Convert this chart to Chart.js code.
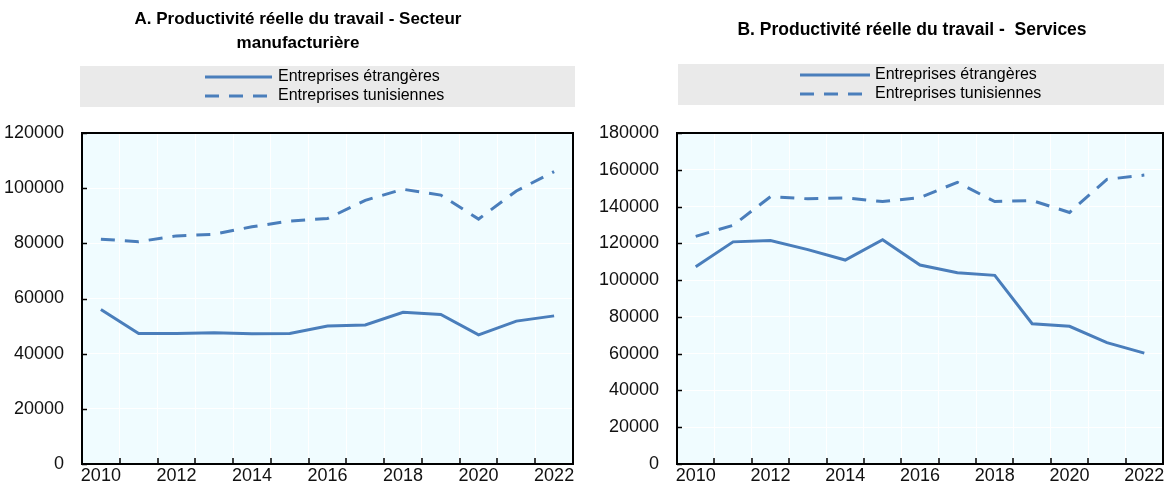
<!DOCTYPE html>
<html>
<head>
<meta charset="utf-8">
<script src="https://cdn.jsdelivr.net/npm/chart.js@4"></script>
<style>
  html, body { margin: 0; padding: 0; background: #fff; overflow: hidden; width: 1164px; height: 488px; }
  canvas { position: absolute; top: 0; }
  #chartA { left: 0; }
  #chartB { left: 590px; }
</style>
</head>
<body>
<canvas id="chartA" width="590" height="488"></canvas>
<canvas id="chartB" width="600" height="488"></canvas>
<script>
const years = ['2010', '2011', '2012', '2013', '2014', '2015', '2016', '2017', '2018', '2019', '2020', '2021', '2022']
const seriesNames = ['Entreprises étrangères', 'Entreprises tunisiennes']

// A. Secteur manufacturier
const manuEtrangeres = [56000, 47300, 47300, 47600, 47200, 47300, 50000, 50400, 55000, 54200, 46800, 51800, 53700]
const manuTunisiennes = [81500, 80600, 82700, 83300, 86000, 88100, 89000, 95600, 99600, 97500, 88800, 99000, 106000]

// B. Services
const servEtrangeres = [107300, 120800, 121500, 116600, 110900, 122000, 108200, 104000, 102600, 76300, 74900, 66000, 60300]
const servTunisiennes = [123800, 129800, 145400, 144200, 144700, 142700, 144900, 153200, 142700, 143300, 136800, 154800, 157100]

const FONT = "'Liberation Sans Narrow', 'Arial Narrow', Arial, sans-serif"
const BLUE = '#4A7EBB'

// plot background, frame, inward ticks, title and grey legend box
const frame = {
  id: 'frame',
  beforeDraw(chart) {
    const { ctx, chartArea: a } = chart
    ctx.save()
    ctx.fillStyle = '#F0FCFF'
    ctx.fillRect(a.left, a.top, a.right - a.left, a.bottom - a.top)
    ctx.restore()
  },
  afterDraw(chart, args, o) {
    const { ctx, chartArea: a, scales } = chart
    ctx.save()
    ctx.strokeStyle = '#000'
    ctx.lineWidth = 1.5
    ctx.beginPath()
    scales.y.ticks.forEach((t, i) => {
      const y = Math.round(scales.y.getPixelForTick(i)) + 0.5
      ctx.moveTo(a.left, y)
      ctx.lineTo(a.left + 5, y)
    })
    for (let i = 1; i < years.length; i++) {
      const x = Math.round((scales.x.getPixelForTick(i - 1) + scales.x.getPixelForTick(i)) / 2)
      ctx.moveTo(x, a.bottom)
      ctx.lineTo(x, a.bottom - 6)
    }
    ctx.stroke()

    ctx.lineWidth = 2
    ctx.strokeRect(a.left, a.top, a.right - a.left, a.bottom - a.top)

    ctx.fillStyle = '#000'
    ctx.font = 'bold ' + o.titleSize + 'px ' + FONT
    ctx.textAlign = 'center'
    ctx.textBaseline = 'middle'
    o.title.forEach((t, i) => ctx.fillText(t, o.titleX, o.titleY + i * 24))

    ctx.fillStyle = '#EAEAEA'
    ctx.fillRect(o.box[0], o.box[1], o.box[2], o.box[3])
    chart.data.datasets.forEach((ds, i) => {
      const y = o.rowY + i * 19
      ctx.strokeStyle = ds.borderColor
      ctx.lineWidth = ds.borderWidth
      ctx.setLineDash(ds.borderDash || [])
      ctx.beginPath()
      ctx.moveTo(o.lineX[0], y)
      ctx.lineTo(o.lineX[1], y)
      ctx.stroke()
      ctx.setLineDash([])
      ctx.fillStyle = '#000'
      ctx.font = '16px ' + FONT
      ctx.textAlign = 'left'
      ctx.fillText(ds.label, o.textX, y)
    })
    ctx.restore()
  }
}

function makeChart(id, etr, tun, yMax, yWidth, padRight, frameOpts) {
  return new Chart(document.getElementById(id), {
    type: 'line',
    data: {
      labels: years,
      datasets: [
        { label: seriesNames[0], data: etr, borderColor: BLUE, borderWidth: 3, pointRadius: 0, tension: 0 },
        { label: seriesNames[1], data: tun, borderColor: BLUE, borderWidth: 3, borderDash: [14, 10], pointRadius: 0, tension: 0 }
      ]
    },
    options: {
      responsive: false,
      animation: false,
      layout: { padding: { left: 0, top: 133, right: padRight, bottom: 0 } },
      plugins: {
        legend: { display: false },
        title: { display: false },
        tooltip: { enabled: false },
        frame: frameOpts
      },
      scales: {
        x: {
          offset: true,
          grid: { offset: true, color: '#FFFFFF', lineWidth: 1, drawTicks: false },
          border: { display: false },
          ticks: {
            autoSkip: false, maxRotation: 0, padding: 3,
            color: '#111', font: { family: FONT, size: 18, lineHeight: 1 },
            callback: function (v, i) { return i % 2 === 0 ? this.getLabelForValue(v) : '' }
          }
        },
        y: {
          min: 0, max: yMax,
          grid: { color: '#FFFFFF', lineWidth: 1, drawTicks: false },
          border: { display: false },
          ticks: { stepSize: 20000, padding: 18, color: '#111', font: { family: FONT, size: 18 }, callback: v => String(v) },
          afterFit: function (s) {
            s.width = yWidth
            s.paddingTop = 10
            s.paddingBottom = 10
          }
        }
      }
    },
    plugins: [frame]
  })
}

makeChart('chartA', manuEtrangeres, manuTunisiennes, 120000, 82, 17, {
  title: ['A. Productivité réelle du travail - Secteur', 'manufacturière'],
  titleSize: 17, titleX: 298, titleY: 19,
  box: [80, 66, 495, 41],
  lineX: [205, 272], textX: 278, rowY: 77
})

makeChart('chartB', servEtrangeres, servTunisiennes, 180000, 87, 27, {
  title: ['B. Productivité réelle du travail -  Services'],
  titleSize: 17.5, titleX: 322, titleY: 30,
  box: [88, 64, 512, 41],
  lineX: [210, 280], textX: 285, rowY: 75
})
</script>
</body>
</html>
